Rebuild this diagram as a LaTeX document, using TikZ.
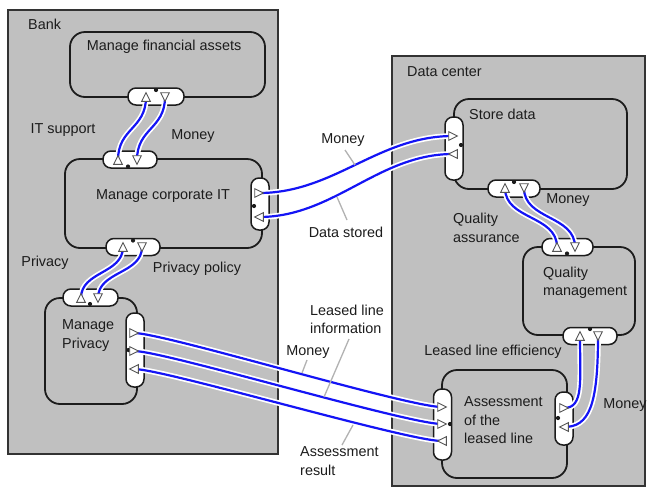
\documentclass[tikz,border=0pt]{standalone}
\usepackage{fontspec}
\setmainfont{Liberation Sans}
\usetikzlibrary{calc}
\definecolor{actorfill}{RGB}{192,192,192}
\definecolor{exblue}{RGB}{20,20,245}
\definecolor{leadgray}{RGB}{178,178,178}
\definecolor{ink}{RGB}{28,28,28}
\tikzset{
  actor/.style={draw=ink!90, line width=1.6pt, fill=actorfill},
  activity/.style={draw=ink, line width=1.8pt, rounded corners=15pt, inner sep=0pt, minimum width=#1},
  ifaceh/.style={draw=ink, line width=1.5pt, fill=white, rounded corners=8pt, inner sep=0pt, minimum height=17pt, minimum width=#1},
  ifacev/.style={draw=ink, line width=1.5pt, fill=white, rounded corners=8pt, inner sep=0pt, minimum width=18pt, minimum height=#1},
  exchange/.style={draw=exblue, line width=2.2pt, preaction={draw=white, line width=5.6pt}},
  porttri/.style={draw=ink!75, fill=white, line width=0.9pt, line join=miter},
  leadline/.style={draw=leadgray, line width=1.3pt},
  lbl/.style={font=\fontsize{14.4pt}{18.5pt}\selectfont, text=ink, inner sep=0pt},
  lblL/.style={lbl, align=left, anchor=west},
}
\newcommand\portup[1]{\draw[porttri] ($(#1)+(0,-4.3)$) -- ($(#1)+(4.3,4.3)$) -- ($(#1)+(-4.3,4.3)$) -- cycle;}
\newcommand\portdn[1]{\draw[porttri] ($(#1)+(0,4.3)$) -- ($(#1)+(4.3,-4.3)$) -- ($(#1)+(-4.3,-4.3)$) -- cycle;}
\newcommand\portrt[1]{\draw[porttri] ($(#1)+(4.3,0)$) -- ($(#1)+(-4.3,4.3)$) -- ($(#1)+(-4.3,-4.3)$) -- cycle;}
\newcommand\portlf[1]{\draw[porttri] ($(#1)+(-4.3,0)$) -- ($(#1)+(4.3,4.3)$) -- ($(#1)+(4.3,-4.3)$) -- cycle;}
\begin{document}
\begin{tikzpicture}[x=1pt,y=-1pt]
\useasboundingbox (0,0) rectangle (647,488);
\clip (0,0) rectangle (647,488);
\fill[white] (0,0) rectangle (647,488);

% actors
\draw[actor] (8,10) rectangle (278,454);
\draw[actor] (392,56) rectangle (645,486);
\node[lblL] (bank) at (28,24) {Bank};
\node[lblL] (dc) at (407,72) {Data center};

% activities
\node[activity=195pt, minimum height=65pt] (mfa) at (167.5,64.5) {};
\node[activity=197pt, minimum height=89pt] (cit) at (163.5,203.5) {};
\node[activity=92pt, minimum height=106pt] (mp) at (91,351) {};
\node[activity=173pt, minimum height=90pt] (sd) at (540.5,144) {};
\node[activity=112pt, minimum height=88pt] (qm) at (579,291) {};
\node[activity=125pt, minimum height=108pt] (al) at (504.5,424) {};

\node[lbl] (mfat) at (164,47) {Manage financial assets};
\node[lbl] (citt) at (163,196) {Manage corporate IT};
\node[lblL] (mpt) at (62,335.5) {Manage\\Privacy};
\node[lblL] (sdt) at (469,114) {Store data};
\node[lblL] (qmt) at (543,283) {Quality\\management};
\node[lblL] (alt) at (464,420.5) {Assessment\\of the\\leased line};

% interfaces
\node[ifaceh=56pt] (mfab) at (156,96.5) {};
\node[ifaceh=54pt] (citt2) at (130,159.5) {};
\node[ifacev=52pt] (citr) at (260,204) {};
\node[ifaceh=54pt] (citb) at (133,247) {};
\node[ifaceh=55pt] (mpt2) at (90.5,297.5) {};
\node[ifacev=74pt] (mpr) at (135,350) {};
\node[ifacev=63pt] (sdl) at (454,148.5) {};
\node[ifaceh=52pt] (sdb) at (514,188.5) {};
\node[ifaceh=51pt] (qmt2) at (567.5,247) {};
\node[ifaceh=54pt] (qmb) at (590,336) {};
\node[ifacev=71pt] (all) at (442.5,424.5) {};
\node[ifacev=53pt] (alr) at (564,418.5) {};

% connection dots
\foreach \p in {(156,90),(128,166.5),(254,206),(133,240.5),(90,304),(128.5,350),(461,145),(514,182),(567,253.5),(590,329),(450,424),(558,418)}
  \fill[ink] \p circle (2.1pt);

% ports
\coordinate (mfa-up) at (146,97);
\coordinate (mfa-dn) at (165,97);
\coordinate (cit-up) at (118,160);
\coordinate (cit-dn) at (137,160);
\coordinate (cit-rt) at (259,193);
\coordinate (cit-lf) at (259,217);
\coordinate (citb-up) at (123,247);
\coordinate (citb-dn) at (142,247);
\coordinate (mp-up) at (81,298);
\coordinate (mp-dn) at (98,298);
\coordinate (mp-r1) at (134,333);
\coordinate (mp-r2) at (134,351);
\coordinate (mp-l3) at (134,369);
\coordinate (sd-rt) at (453,136);
\coordinate (sd-lf) at (453,154);
\coordinate (sdb-up) at (505,188);
\coordinate (sdb-dn) at (524,188);
\coordinate (qm-up) at (557,247);
\coordinate (qm-dn) at (575,247);
\coordinate (qmb-up) at (580,336);
\coordinate (qmb-dn) at (598,336);
\coordinate (al-r1) at (442,407);
\coordinate (al-r2) at (442,424);
\coordinate (al-l3) at (442,441);
\coordinate (alr-rt) at (564,408);
\coordinate (alr-lf) at (564,427);

% value exchanges
\draw[exchange] (cit-up) .. controls +(0,-32) and +(0,32) .. (mfa-up);
\draw[exchange] (mfa-dn) .. controls +(0,32) and +(0,-32) .. (cit-dn);
\draw[exchange] (cit-rt) .. controls +(75,0) and +(-75,0) .. (sd-rt);
\draw[exchange] (sd-lf) .. controls +(-75,0) and +(75,0) .. (cit-lf);
\draw[exchange] (mp-up) .. controls +(0,-27) and +(0,27) .. (citb-up);
\draw[exchange] (citb-dn) .. controls +(0,27) and +(0,-27) .. (mp-dn);
\draw[exchange] (mp-r1) .. controls +(30,0) and +(-35,0) .. (al-r1);
\draw[exchange] (mp-r2) .. controls +(30,0) and +(-35,0) .. (al-r2);
\draw[exchange] (al-l3) .. controls +(-35,0) and +(30,0) .. (mp-l3);
\draw[exchange] (qm-up) .. controls +(0,-32) and +(0,32) .. (sdb-up);
\draw[exchange] (sdb-dn) .. controls +(0,32) and +(0,-32) .. (qm-dn);
\draw[exchange] (alr-rt) .. controls +(20,0) and +(0,45) .. (qmb-up);
\draw[exchange] (qmb-dn) .. controls +(0,70) and +(25,0) .. (alr-lf);

% port triangles
\portup{mfa-up} \portdn{mfa-dn}
\portup{cit-up} \portdn{cit-dn}
\portrt{cit-rt} \portlf{cit-lf}
\portup{citb-up} \portdn{citb-dn}
\portup{mp-up} \portdn{mp-dn}
\portrt{mp-r1} \portrt{mp-r2} \portlf{mp-l3}
\portrt{sd-rt} \portlf{sd-lf}
\portup{sdb-up} \portdn{sdb-dn}
\portup{qm-up} \portdn{qm-dn}
\portup{qmb-up} \portdn{qmb-dn}
\portrt{al-r1} \portrt{al-r2} \portlf{al-l3}
\portrt{alr-rt} \portlf{alr-lf}

% exchange labels
\node[lbl] (l1) at (63,130) {IT support};
\node[lbl] (l2) at (193,136) {Money};
\node[lbl] (l3) at (343,140) {Money};
\node[lbl] (l4) at (346,232) {Data stored};
\node[lbl] (l5) at (45,263) {Privacy};
\node[lbl] (l6) at (197,269) {Privacy policy};
\node[lbl] (l7) at (308,352) {Money};
\node[lblL] (l8) at (310,319.5) {Leased line\\information};
\node[lblL] (l9) at (300,461) {Assessment\\result};
\node[lblL] (l10) at (453,228) {Quality\\assurance};
\node[lbl] (l11) at (568,200) {Money};
\node[lbl] (l12) at (493,352) {Leased line efficiency};
\node[lbl] (l13) at (625,405) {Money};

% leader lines
\coordinate (k3a) at (345,150); \coordinate (k3b) at (355,165);
\coordinate (k4a) at (337,197); \coordinate (k4b) at (347,220);
\coordinate (k7a) at (307,360); \coordinate (k7b) at (302,373);
\coordinate (k8a) at (349,339); \coordinate (k8b) at (324,397);
\coordinate (k9a) at (342,445); \coordinate (k9b) at (353,425);
\draw[leadline] (k3a) -- (k3b);
\draw[leadline] (k4a) -- (k4b);
\draw[leadline] (k7a) -- (k7b);
\draw[leadline] (k8a) -- (k8b);
\draw[leadline] (k9a) -- (k9b);
\end{tikzpicture}
\end{document}
